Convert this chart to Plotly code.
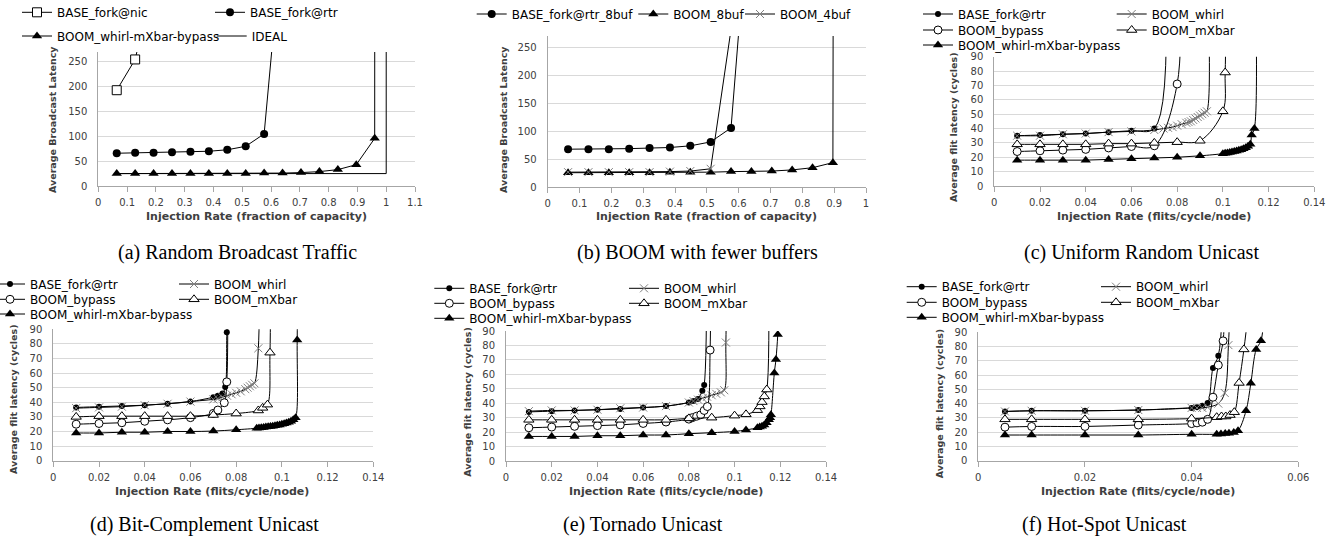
import plotly.graph_objects as go

W, H = 1342, 540
SANS = "DejaVu Sans"
SERIF = "Liberation Serif"

# ---------------- (a) Random Broadcast Traffic ----------------
a_nic_x = [0.064, 0.128, 0.192]
a_nic_y = [193, 255, 415]
a_rtr_x = [0.064, 0.128, 0.192, 0.256, 0.32, 0.384, 0.448, 0.512, 0.576, 0.64]
a_rtr_y = [66, 67, 67, 68, 69, 70, 73, 80, 105, 510]
a_wmb_x = [0.064, 0.128, 0.192, 0.256, 0.32, 0.384, 0.448, 0.512, 0.576, 0.64,
           0.704, 0.768, 0.832, 0.896, 0.96, 0.962]
a_wmb_y = [25, 25, 25, 25, 25, 25, 25, 25, 26, 26, 27, 29, 33, 43, 96, 3000]
a_ideal_x = [0.064, 1.0, 1.0]
a_ideal_y = [25, 25, 3000]

# ---------------- (b) BOOM with fewer buffers ----------------
b_rtr_x = [0.064, 0.128, 0.192, 0.256, 0.32, 0.384, 0.448, 0.512, 0.576, 0.64]
b_rtr_y = [68, 68, 68, 69, 70, 71, 74, 81, 106, 560]
b_8buf_x = [0.064, 0.128, 0.192, 0.256, 0.32, 0.384, 0.448, 0.512, 0.576, 0.64,
            0.704, 0.768, 0.832, 0.896, 0.905]
b_8buf_y = [26, 26, 26, 26, 26, 27, 27, 27, 28, 28, 29, 31, 35, 44, 3000]
b_4buf_x = [0.064, 0.128, 0.192, 0.256, 0.32, 0.384, 0.448, 0.512, 0.576]
b_4buf_y = [27, 27, 27, 27, 27, 28, 29, 33, 282]

# ---------------- (c) Uniform Random Unicast ----------------
c_rtr_x = [0.01, 0.02, 0.03, 0.04, 0.05, 0.06, 0.07, 0.075]
c_rtr_y = [35, 35.5, 36, 36.5, 37.5, 38.5, 40, 140]
c_whirl_x = [0.01, 0.02, 0.03, 0.04, 0.05, 0.06, 0.07, 0.074, 0.076, 0.078, 0.08, 0.082,
             0.084, 0.085, 0.086, 0.087, 0.088, 0.089, 0.09, 0.091, 0.092, 0.093, 0.0932]
c_whirl_y = [35, 35, 36, 36.5, 37.5, 38, 39, 40, 40.5, 41, 42, 43,
             44, 44.5, 45, 46, 47, 48, 49, 50, 51, 52, 150]
c_bypass_x = [0.01, 0.02, 0.03, 0.04, 0.05, 0.06, 0.07, 0.08, 0.0805]
c_bypass_y = [24, 24.5, 25, 25.5, 26.5, 27.5, 28, 71, 160]
c_mxbar_x = [0.01, 0.02, 0.03, 0.04, 0.05, 0.06, 0.07, 0.08, 0.09, 0.1, 0.101, 0.1012]
c_mxbar_y = [29, 29, 29, 29, 29.5, 29.5, 30, 30.5, 31.5, 52, 79, 160]
c_wmb_x = [0.01, 0.02, 0.03, 0.04, 0.05, 0.06, 0.07, 0.08, 0.09, 0.1, 0.101, 0.102,
           0.103, 0.104, 0.105, 0.106, 0.107, 0.108, 0.109, 0.11, 0.111, 0.112,
           0.1126, 0.1138, 0.1141]
c_wmb_y = [18, 18, 18, 18, 18.5, 19, 19.5, 20, 21, 22.5, 22.8, 23,
           23.3, 23.6, 24, 24.4, 24.8, 25.3, 25.9, 26.7, 27.7, 29,
           35.5, 40, 160]

# ---------------- (d) Bit-Complement Unicast ----------------
d_rtr_x = [0.01, 0.02, 0.03, 0.04, 0.05, 0.06, 0.07, 0.072, 0.074, 0.0752, 0.0759, 0.0761]
d_rtr_y = [36.5, 37, 37.5, 38, 39, 40.5, 43.5, 44.5, 46, 50.5, 88, 160]
d_whirl_x = [0.01, 0.02, 0.03, 0.04, 0.05, 0.06, 0.07, 0.072, 0.074, 0.076, 0.078, 0.08,
             0.082, 0.084, 0.085, 0.086, 0.087, 0.088, 0.0897, 0.0901]
d_whirl_y = [36, 36.5, 37, 38, 39, 40.5, 42, 42.5, 43.5, 44.5, 45.5, 46.5,
             47.5, 49, 50, 51, 52, 53, 77, 160]
d_bypass_x = [0.01, 0.02, 0.03, 0.04, 0.05, 0.06, 0.07, 0.072, 0.0748, 0.0759, 0.0761]
d_bypass_y = [25, 25.5, 26, 27, 28, 29.5, 32.4, 34.7, 39.7, 54, 160]
d_mxbar_x = [0.01, 0.02, 0.03, 0.04, 0.05, 0.06, 0.07, 0.08, 0.0897, 0.0916, 0.0937, 0.0948, 0.0949]
d_mxbar_y = [30, 30.5, 30.5, 30.5, 30.5, 30.5, 31.3, 32.3, 34.4, 36.2, 38.4, 74, 160]
d_wmb_x = [0.01, 0.02, 0.03, 0.04, 0.05, 0.06, 0.07, 0.08, 0.089, 0.09, 0.091, 0.092,
           0.093, 0.094, 0.095, 0.096, 0.097, 0.098, 0.099, 0.1, 0.101, 0.102, 0.103,
           0.104, 0.105, 0.106, 0.1067, 0.1068]
d_wmb_y = [19, 19, 19.5, 19.5, 20, 20, 20.3, 21.2, 22.2, 22.4, 22.6, 22.8,
           23.0, 23.2, 23.4, 23.6, 23.9, 24.2, 24.5, 24.9, 25.3, 25.8, 26.4,
           27.1, 28.0, 29.4, 82.6, 160]

# ---------------- (e) Tornado Unicast ----------------
e_rtr_x = [0.01, 0.02, 0.03, 0.04, 0.05, 0.06, 0.07, 0.08, 0.082, 0.084, 0.0859, 0.0867, 0.0878]
e_rtr_y = [34, 34.5, 35, 35.5, 36, 37, 38, 40.5, 41.5, 43, 48.7, 52.6, 160]
e_whirl_x = [0.01, 0.02, 0.03, 0.04, 0.05, 0.06, 0.07, 0.08, 0.082, 0.084, 0.086, 0.088,
             0.09, 0.092, 0.094, 0.0955, 0.0962, 0.0965]
e_whirl_y = [34.5, 35, 35, 35.5, 36.5, 37, 38, 40.5, 41.5, 42.5, 43.5, 44.5,
             45.5, 46.5, 47.5, 49, 82, 160]
e_bypass_x = [0.01, 0.02, 0.03, 0.04, 0.05, 0.06, 0.07, 0.08, 0.0815, 0.0834, 0.0852,
              0.0867, 0.0881, 0.0893, 0.0895]
e_bypass_y = [23, 23.5, 24, 24.5, 25, 26, 27, 29, 30, 31, 32, 35, 37.7, 76.8, 160]
e_mxbar_x = [0.01, 0.02, 0.03, 0.04, 0.05, 0.06, 0.07, 0.08, 0.09, 0.1, 0.105, 0.11,
             0.1111, 0.112, 0.113, 0.1141, 0.1147]
e_mxbar_y = [28.5, 28.5, 28.5, 28.5, 28.5, 28.5, 28.5, 29.5, 30, 31.4, 32.3, 35.2,
             37.8, 40.8, 44.7, 49.5, 160]
e_wmb_x = [0.01, 0.02, 0.03, 0.04, 0.05, 0.06, 0.07, 0.08, 0.09, 0.1, 0.105, 0.11,
           0.111, 0.112, 0.113, 0.114, 0.115, 0.1155, 0.1159, 0.1174, 0.1181, 0.1189, 0.1195]
e_wmb_y = [17, 17, 17, 17.5, 17.5, 18, 18, 18.9, 19.6, 20.5, 21.5, 23,
           23.5, 24, 25, 26.5, 28.5, 30, 32, 61, 70.3, 87.5, 110]

# ---------------- (f) Hot-Spot Unicast ----------------
f_rtr_x = [0.005, 0.01, 0.02, 0.03, 0.04, 0.041, 0.042, 0.043, 0.044, 0.045, 0.0458]
f_rtr_y = [34.5, 35, 35, 35.5, 37, 37.5, 38.5, 40.5, 65, 73.5, 110]
f_whirl_x = [0.005, 0.01, 0.02, 0.03, 0.04, 0.041, 0.042, 0.043, 0.045, 0.0462, 0.0469, 0.0472]
f_whirl_y = [34.5, 35, 35, 35.5, 37, 37, 37, 37.5, 40, 47.5, 81, 110]
f_bypass_x = [0.005, 0.01, 0.02, 0.03, 0.04, 0.041, 0.042, 0.043, 0.044, 0.045, 0.0459, 0.0462]
f_bypass_y = [23.5, 24, 24, 25, 26, 26.5, 27, 29, 44.5, 67, 84, 110]
f_mxbar_x = [0.005, 0.01, 0.02, 0.03, 0.04, 0.0447, 0.0456, 0.0464, 0.0472, 0.048,
             0.0489, 0.0498, 0.0508]
f_mxbar_y = [29, 29, 29, 29, 29.5, 30.5, 31, 31, 32, 34, 54.5, 78, 110]
f_wmb_x = [0.005, 0.01, 0.02, 0.03, 0.04, 0.0447, 0.0455, 0.0463, 0.047, 0.0479,
           0.0487, 0.0502, 0.0511, 0.0521, 0.053, 0.0535]
f_wmb_y = [18, 18, 18, 18, 18.5, 18.5, 18.7, 19, 19.2, 19.8, 21, 35, 54.3, 78, 84, 100]

# ---------------- styles ----------------
BLACK = "black"
GRAY = "#808080"
STY = {
    "nic": dict(symbol="square", size=9, color="white", line=dict(color=BLACK, width=1)),
    "dot_big": dict(symbol="circle", size=8, color=BLACK),
    "dot": dict(symbol="circle", size=6, color=BLACK),
    "tri": dict(symbol="triangle-up", size=9, color=BLACK),
    "tri_open": dict(symbol="triangle-up", size=9, color="white", line=dict(color=BLACK, width=1)),
    "circ_open": dict(symbol="circle", size=8, color="white", line=dict(color=BLACK, width=1)),
    "x": dict(symbol="x-thin", size=8, color=GRAY, line=dict(color=GRAY, width=1)),
}

# panel geometry in pixels: x domain, y (top, bottom)
PANELS = [
    dict(xd=(98.3, 415), yd=(52, 186), xr=[0, 1.1], dx=0.1, yr=[0, 270], dy=50,
         ytitle="Average Broadcast Latency", ytx=(52, 120),
         xtitle="Injection Rate (fraction of capacity)", xtx=(256.7, 216),
         cap="(a) Random Broadcast Traffic", capxy=(237, 252)),
    dict(xd=(547.7, 866), yd=(36, 187.3), xr=[0, 1], dx=0.1, yr=[0, 270], dy=50,
         ytitle="Average Broadcast Latency", ytx=(503, 120),
         xtitle="Injection Rate (fraction of capacity)", xtx=(706.7, 216),
         cap="(b) BOOM with fewer buffers", capxy=(697, 252)),
    dict(xd=(994.3, 1314.3), yd=(56.7, 186), xr=[0, 0.14], dx=0.02, yr=[0, 90], dy=10,
         ytitle="Average flit latency (cycles)", ytx=(953, 128),
         xtitle="Injection Rate (flits/cycle/node)", xtx=(1154, 216),
         cap="(c) Uniform Random Unicast", capxy=(1141.7, 252)),
    dict(xd=(53.3, 373.3), yd=(329.3, 460.7), xr=[0, 0.14], dx=0.02, yr=[0, 90], dy=10,
         ytitle="Average flit latency (cycles)", ytx=(13, 400),
         xtitle="Injection Rate (flits/cycle/node)", xtx=(211.7, 491),
         cap="(d) Bit-Complement Unicast", capxy=(204, 524)),
    dict(xd=(506, 826), yd=(331, 461), xr=[0, 0.14], dx=0.02, yr=[0, 90], dy=10,
         ytitle="Average flit latency (cycles)", ytx=(466.7, 402),
         xtitle="Injection Rate (flits/cycle/node)", xtx=(665.8, 491),
         cap="(e) Tornado Unicast", capxy=(642.5, 524)),
    dict(xd=(978.3, 1298.3), yd=(332.3, 460.7), xr=[0, 0.06], dx=0.02, yr=[0, 90], dy=10,
         ytitle="Average flit latency (cycles)", ytx=(939.3, 404),
         xtitle="Injection Rate (flits/cycle/node)", xtx=(1138.3, 491),
         cap="(f) Hot-Spot Unicast", capxy=(1104, 524)),
]

fig = go.Figure()
legends = {}


def add_series(panel, x, y, name, style, text_xy, shape):
    idx = len(fig.data) + 1
    leg = "legend" if idx == 1 else f"legend{idx}"
    sfx = "" if panel == 1 else str(panel)
    kw = dict(x=x, y=y, name=name, xaxis="x" + sfx, yaxis="y" + sfx,
              legend=leg, showlegend=True,
              line=dict(color=BLACK, width=1, shape=shape, smoothing=1))
    if style is None:
        kw["mode"] = "lines"
    else:
        kw["mode"] = "lines+markers"
        kw["marker"] = STY[style]
    fig.add_trace(go.Scatter(**kw))
    legends[leg] = dict(x=(text_xy[0] - 40) / W, y=1 - text_xy[1] / H,
                        xanchor="left", yanchor="middle",
                        bgcolor="rgba(0,0,0,0)", borderwidth=0,
                        font=dict(family=SANS, size=12, color=BLACK))


# (a)
add_series(1, a_nic_x, a_nic_y, "BASE_fork@nic", "nic", (57, 12.3), "linear")
add_series(1, a_rtr_x, a_rtr_y, "BASE_fork@rtr", "dot_big", (250, 12.3), "linear")
add_series(1, a_wmb_x, a_wmb_y, "BOOM_whirl-mXbar-bypass", "tri", (57, 36), "linear")
add_series(1, a_ideal_x, a_ideal_y, "IDEAL", None, (251.7, 36), "linear")
# (b)
add_series(2, b_rtr_x, b_rtr_y, "BASE_fork@rtr_8buf", "dot_big", (511.7, 14), "linear")
add_series(2, b_8buf_x, b_8buf_y, "BOOM_8buf", "tri", (673.3, 14), "linear")
add_series(2, b_4buf_x, b_4buf_y, "BOOM_4buf", "x", (780, 14), "linear")

unicast = [
    (3, (c_rtr_x, c_rtr_y), (c_whirl_x, c_whirl_y), (c_bypass_x, c_bypass_y),
     (c_mxbar_x, c_mxbar_y), (c_wmb_x, c_wmb_y), (958, 1151.7), (14, 30, 45)),
    (4, (d_rtr_x, d_rtr_y), (d_whirl_x, d_whirl_y), (d_bypass_x, d_bypass_y),
     (d_mxbar_x, d_mxbar_y), (d_wmb_x, d_wmb_y), (30, 214), (284, 299.3, 314)),
    (5, (e_rtr_x, e_rtr_y), (e_whirl_x, e_whirl_y), (e_bypass_x, e_bypass_y),
     (e_mxbar_x, e_mxbar_y), (e_wmb_x, e_wmb_y), (469.3, 664), (288.3, 303.3, 318.3)),
    (6, (f_rtr_x, f_rtr_y), (f_whirl_x, f_whirl_y), (f_bypass_x, f_bypass_y),
     (f_mxbar_x, f_mxbar_y), (f_wmb_x, f_wmb_y), (941.7, 1136), (286.7, 302.3, 317.3)),
]
for p, rtr, whirl, byp, mx, wmb, (c1, c2), (r1, r2, r3) in unicast:
    add_series(p, *rtr, "BASE_fork@rtr", "dot", (c1, r1), "spline")
    add_series(p, *whirl, "BOOM_whirl", "x", (c2, r1), "spline")
    add_series(p, *byp, "BOOM_bypass", "circ_open", (c1, r2), "spline")
    add_series(p, *mx, "BOOM_mXbar", "tri_open", (c2, r2), "spline")
    add_series(p, *wmb, "BOOM_whirl-mXbar-bypass", "tri", (c1, r3), "spline")

AXCOL = "#a6a6a6"
annotations = []
layout_axes = {}
for i, pnl in enumerate(PANELS, start=1):
    sfx = "" if i == 1 else str(i)
    layout_axes["xaxis" + sfx] = dict(
        domain=[pnl["xd"][0] / W, pnl["xd"][1] / W], range=pnl["xr"],
        tick0=0, dtick=pnl["dx"], anchor="y" + sfx,
        showline=True, linecolor=AXCOL, linewidth=1,
        ticks="outside", ticklen=5, tickcolor=AXCOL, tickwidth=1,
        ticklabelstandoff=2,
        showgrid=False, zeroline=False,
        tickfont=dict(family=SANS, size=10, color="#404040"))
    layout_axes["yaxis" + sfx] = dict(
        domain=[1 - pnl["yd"][1] / H, 1 - pnl["yd"][0] / H], range=pnl["yr"],
        tick0=0, dtick=pnl["dy"], anchor="x" + sfx,
        showline=True, linecolor=AXCOL, linewidth=1,
        ticks="", ticklabelstandoff=8,
        showgrid=True, gridcolor="#d9d9d9", gridwidth=1, zeroline=False,
        tickfont=dict(family=SANS, size=10, color="#404040"))
    annotations.append(dict(
        text="<b>" + pnl["xtitle"] + "</b>", x=pnl["xtx"][0] / W, y=1 - pnl["xtx"][1] / H,
        xref="paper", yref="paper", xanchor="center", yanchor="middle", showarrow=False,
        font=dict(family=SANS, size=11, color="#404040")))
    annotations.append(dict(
        text="<b>" + pnl["ytitle"] + "</b>", x=pnl["ytx"][0] / W, y=1 - pnl["ytx"][1] / H,
        xref="paper", yref="paper", xanchor="center", yanchor="middle", showarrow=False,
        textangle=-90, font=dict(family=SANS, size=9.5, color="#404040")))
    annotations.append(dict(
        text=pnl["cap"], x=pnl["capxy"][0] / W, y=1 - pnl["capxy"][1] / H,
        xref="paper", yref="paper", xanchor="center", yanchor="middle", showarrow=False,
        font=dict(family=SERIF, size=20, color=BLACK)))

fig.update_layout(
    width=W, height=H, margin=dict(l=0, r=0, t=0, b=0, autoexpand=False),
    paper_bgcolor="white", plot_bgcolor="white",
    annotations=annotations, **layout_axes, **legends)

fig.write_html("out.html", config={"displayModeBar": False},
               post_script="document.body.style.margin='0';document.body.style.overflow='hidden';")
